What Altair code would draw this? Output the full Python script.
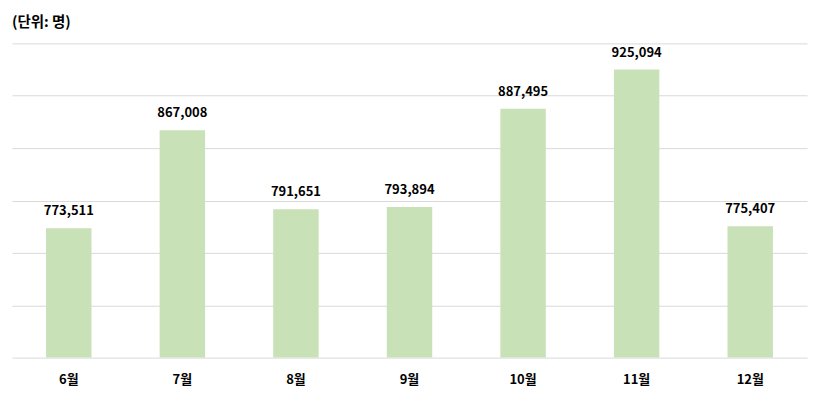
import altair as alt
import pandas as pd

months = ["6월", "7월", "8월", "9월", "10월", "11월", "12월"]
values = [773511, 867008, 791651, 793894, 887495, 925094, 775407]

df = pd.DataFrame({"month": months, "value": values})
df["label"] = [f"{v:,}" for v in values]

FONT = "Noto Sans CJK KR"

base = alt.Chart(df).encode(
    x=alt.X("month:N", sort=months, title=None,
            scale=alt.Scale(paddingInner=0.6, paddingOuter=0.3),
            axis=alt.Axis(labelAngle=0, labelFont=FONT, labelFontWeight="bold",
                          labelFontSize=13, labelColor="#000000", ticks=False,
                          domain=False, labelPadding=16, grid=False)),
    y=alt.Y("value:Q", title=None,
            scale=alt.Scale(domain=[650000, 950000], nice=False, zero=False, clamp=True),
            axis=alt.Axis(values=[650000, 700000, 750000, 800000, 850000, 900000, 950000],
                          labels=False, ticks=False, domain=False, grid=True,
                          gridColor="#d9d9d9", gridWidth=1)),
)

bars = base.mark_bar(color="#c8e1b7").encode(y2=alt.datum(650000))
text = base.mark_text(baseline="bottom", dy=-10, font=FONT, fontWeight="bold",
                      fontSize=13, color="#000000").encode(text="label:N")

chart = (bars + text).properties(
    width=797, height=315,
    title=alt.TitleParams("(단위: 명)", anchor="start", font=FONT, fontSize=14.5,
                          fontWeight="bold", color="#000000", offset=13, frame="group"),
    padding={"left": 4, "top": 6, "right": 5, "bottom": 5},
).configure(background="#ffffff").configure_view(stroke=None)

chart.save("out.html", embed_options={"renderer": "svg", "actions": False})
